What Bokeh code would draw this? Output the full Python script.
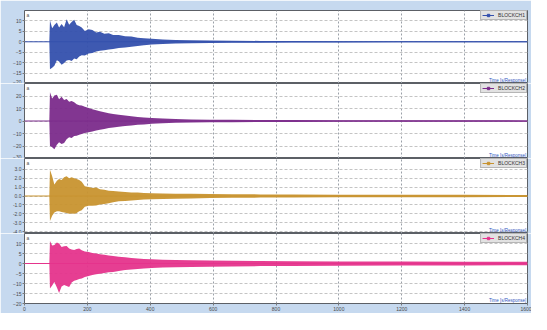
from bokeh.plotting import figure
from bokeh.layouts import column
from bokeh.models import Range1d, FixedTicker, Label, Legend, LegendItem, NumeralTickFormatter
from bokeh.embed import file_html
from bokeh.resources import INLINE

time = [0, 79, 81, 88, 95, 103, 110, 118, 126, 134, 142, 150, 158, 166, 174, 182, 192, 204,
        216, 228, 240, 254, 268, 282, 300, 320, 340, 360, 380, 405, 440, 480, 530, 590, 660,
        750, 850, 1000, 1200, 1400, 1600]
baseline = [0, 0]

ch1_upper = [0, 0, 10.3, 6.5, 8.0, 9.2, 6.8, 8.5, 7.0, 10.8, 8.2, 9.5, 10.6, 8.0, 7.6, 6.8, 5.2, 6.0,
             5.6, 4.4, 4.8, 3.9, 4.1, 3.3, 3.2, 2.6, 2.5, 1.9, 1.7, 1.4, 1.1, 0.85, 0.7, 0.6, 0.5,
             0.42, 0.36, 0.3, 0.26, 0.22, 0.2]
ch1_lower = [0, 0, -13.2, -12.5, -11.5, -8.8, -9.5, -11.0, -10.2, -9.0, -8.7, -9.2, -8.0, -8.4, -7.0,
             -6.4, -6.6, -5.6, -5.4, -4.6, -4.3, -4.0, -3.7, -3.4, -3.0, -2.7, -2.4, -2.0, -1.7, -1.35,
             -1.1, -0.85, -0.7, -0.6, -0.5, -0.42, -0.36, -0.3, -0.26, -0.22, -0.2]

ch2_upper = [0, 0, 23, 18, 20.5, 21, 17.5, 19.5, 16.8, 17.6, 15.5, 16.0, 15.0, 13.5, 12.7, 12.5, 11.4,
             10.5, 9.5, 8.6, 7.8, 7.0, 6.2, 5.6, 5.0, 4.4, 3.9, 3.3, 2.9, 2.4, 2.0, 1.6, 1.3, 1.1,
             0.95, 0.85, 0.75, 0.65, 0.6, 0.55, 0.5]
ch2_lower = [0, 0, -19.8, -21, -22.5, -19, -17, -18.4, -17.5, -14.5, -13.0, -13.5, -12.0, -11.7, -11.0,
             -10.3, -9.6, -9.0, -8.4, -7.6, -7.0, -6.4, -5.6, -5.1, -4.6, -4.0, -3.5, -3.0, -2.7, -2.2,
             -1.8, -1.4, -1.2, -1.05, -0.95, -0.85, -0.75, -0.65, -0.6, -0.55, -0.5]

ch3_upper = [0, 0, 2.95, 2.2, 1.3, 1.7, 1.9, 1.8, 2.1, 2.2, 2.0, 2.1, 2.0, 1.9, 1.8, 1.6, 1.1, 1.0,
             0.9, 0.95, 0.75, 0.7, 0.6, 0.55, 0.5, 0.45, 0.4, 0.38, 0.34, 0.3, 0.28, 0.26, 0.24,
             0.22, 0.2, 0.18, 0.16, 0.15, 0.14, 0.13, 0.12]
ch3_lower = [0, 0, -2.8, -2.2, -1.85, -1.7, -1.7, -1.8, -1.85, -1.9, -2.0, -1.95, -2.0, -1.9, -1.7,
             -1.6, -1.2, -1.1, -1.1, -1.05, -0.95, -0.9, -0.8, -0.7, -0.6, -0.55, -0.5, -0.45, -0.4,
             -0.37, -0.33, -0.3, -0.27, -0.23, -0.2, -0.18, -0.16, -0.15, -0.14, -0.13, -0.12]

ch4_upper = [0, 0, 11.2, 9.0, 9.2, 10.5, 10.0, 8.3, 8.6, 8.8, 7.5, 7.0, 6.7, 7.2, 7.5, 6.6, 6.0, 5.8,
             5.2, 5.0, 4.6, 4.4, 4.0, 3.7, 3.4, 3.1, 2.8, 2.5, 2.3, 2.1, 1.9, 1.75, 1.6, 1.5, 1.35,
             1.25, 1.15, 1.05, 0.95, 0.9, 0.85]
ch4_lower = [0, 0, -12.5, -11.0, -9.2, -12.0, -14.7, -11.5, -10.8, -11.2, -11.7, -9.5, -8.6, -8.3,
             -7.8, -7.5, -6.8, -6.2, -5.8, -5.4, -5.1, -4.8, -4.4, -4.2, -3.7, -3.3, -3.0, -2.7, -2.5,
             -2.3, -2.0, -1.85, -1.75, -1.65, -1.45, -1.3, -1.2, -1.1, -1.0, -0.95, -0.9]

names = ["BLOCKCH1", "BLOCKCH2", "BLOCKCH3", "BLOCKCH4"]
x_ticks = [0, 200, 400, 600, 800, 1000, 1200, 1400, 1600]
y_ticks = [[-20, -15, -10, -5, 0, 5, 10],
           [-30, -20, -10, 0, 10, 20],
           [-4, -3, -2, -1, 0, 1, 2, 3],
           [-20, -15, -10, -5, 0, 5, 10]]
y_ranges = [(-20, 15), (-30, 30), (-4.2, 4.2), (-20, 15)]
uppers = [ch1_upper, ch2_upper, ch3_upper, ch4_upper]
lowers = [ch1_lower, ch2_lower, ch3_lower, ch4_lower]

# ---- styles ----
colors = ["#3450ad", "#7b2b8b", "#c8932f", "#e5348c"]
heights = [83, 75, 75, 80]
tops = [10, 0, 0, 0]
bottoms = [0, 0, 0, 10]
FRAME = "#c6d9ef"
FONT = "Liberation Sans"

x_range = Range1d(0, 1600)
figs = []
for i in range(4):
    lo, hi = y_ranges[i]
    p = figure(width=531, height=heights[i], x_range=x_range, y_range=Range1d(lo, hi),
               output_backend="svg", toolbar_location=None,
               min_border_left=24, min_border_right=4,
               min_border_top=tops[i], min_border_bottom=bottoms[i],
               background_fill_color="white", border_fill_color=FRAME,
               outline_line_color="#5c6066", outline_line_width=1)

    # grid
    p.xgrid.ticker = FixedTicker(ticks=x_ticks)
    p.xgrid.grid_line_color = "#9aa0a8"
    p.xgrid.grid_line_dash = "2 2"
    p.ygrid.ticker = FixedTicker(ticks=y_ticks[i])
    p.ygrid.grid_line_color = "#c4c4c4"
    p.ygrid.grid_line_dash = "3 2"

    # y axis
    yax = p.yaxis[0]
    yax.ticker = FixedTicker(ticks=y_ticks[i])
    yax.major_label_text_font_size = "5px"
    yax.major_label_text_font = FONT
    yax.major_label_text_color = "#4a4a4a"
    yax.major_tick_out = 2
    yax.major_tick_in = 0
    yax.minor_tick_out = 0
    yax.minor_tick_in = 0
    yax.axis_line_color = None
    yax.major_tick_line_color = "#7a7a7a"
    yax.major_label_standoff = 1
    if i == 2:
        yax.formatter = NumeralTickFormatter(format="0.0")

    # x axis
    xax = p.xaxis[0]
    if i < 3:
        xax.visible = False
    else:
        xax.ticker = FixedTicker(ticks=x_ticks)
        xax.major_label_text_font_size = "5px"
        xax.major_label_text_font = FONT
        xax.major_label_text_color = "#4a4a4a"
        xax.major_tick_out = 2
        xax.major_tick_in = 0
        xax.minor_tick_out = 0
        xax.minor_tick_in = 0
        xax.axis_line_color = None
        xax.major_tick_line_color = "#7a7a7a"
        xax.major_label_standoff = 1

    # signal
    lr = p.line(x=[time[0], time[-1]], y=baseline, line_color=colors[i], line_width=1)
    p.varea(x=time, y1=lowers[i], y2=uppers[i], fill_color=colors[i], fill_alpha=0.95)
    sr = p.scatter(x=time, y=uppers[i], marker="square", size=0,
                   fill_color=colors[i], line_color=colors[i])

    # legend (line + marker)
    leg = Legend(items=[LegendItem(label=names[i], renderers=[lr, sr])],
                 location="top_right", orientation="horizontal",
                 label_text_font_size="5px", label_text_font=FONT, label_text_color="#333333",
                 glyph_width=12, glyph_height=6, label_height=5, label_standoff=4,
                 padding=1, margin=0, spacing=0,
                 border_line_color="#8a8a8a", border_line_width=1,
                 background_fill_color="#e2e2e2", background_fill_alpha=1)
    p.add_layout(leg)

    # axis caption and channel tag
    p.add_layout(Label(x=1596, y=lo, text="Time [s/Response]", text_align="right",
                       text_baseline="bottom", text_font_size="4.5px", text_font=FONT,
                       text_color="#2f55c0", y_offset=1))
    p.add_layout(Label(x=6, y=hi, text="a", text_align="left", text_baseline="top",
                       text_font_size="5px", text_font=FONT, text_color="#555555", y_offset=-1))
    figs.append(p)

layout = column(*figs, spacing=0)
open("out.html", "w").write(file_html(layout, INLINE))
